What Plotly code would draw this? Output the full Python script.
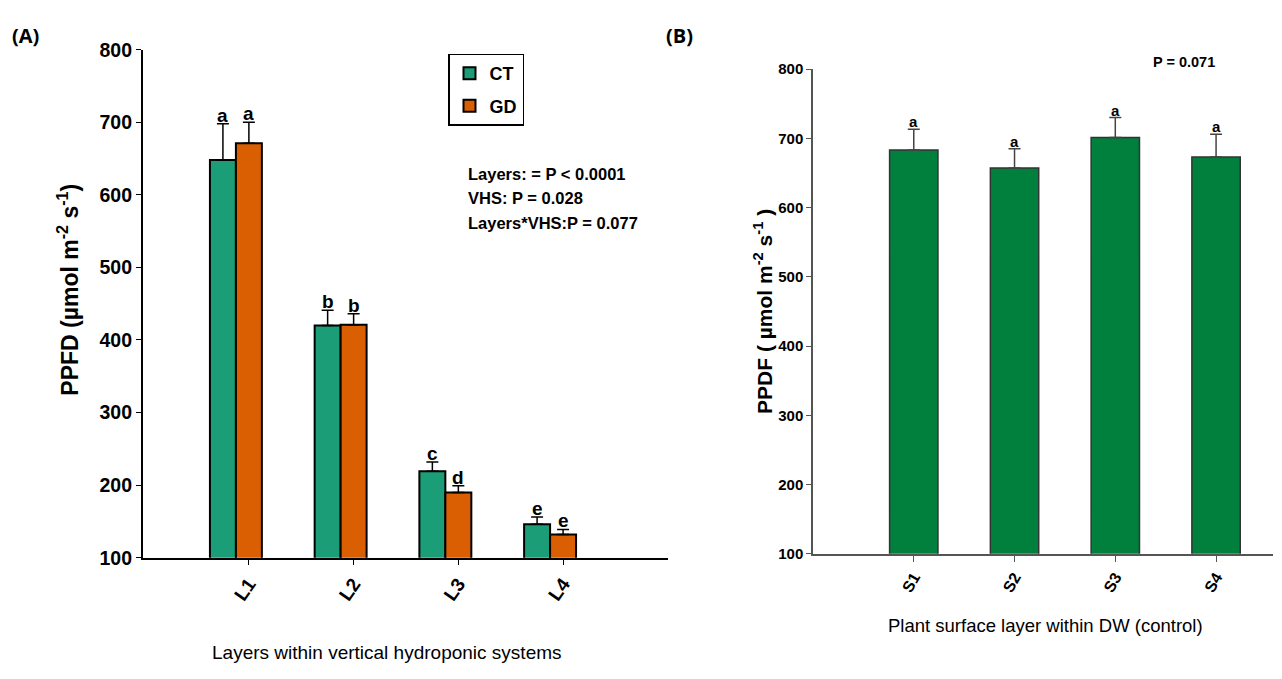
import plotly.graph_objects as go

# Panel A: PPFD by layer for the two vertical hydroponic systems
layers = ["L1", "L2", "L3", "L4"]
ct_mean = [648, 420, 219, 146]
ct_sd = [50, 21, 13, 10]
gd_mean = [671, 421, 190, 132]
gd_sd = [29, 15, 9, 7]
ct_letters = ["a", "b", "c", "e"]
gd_letters = ["a", "b", "d", "e"]
stats_lines = ["Layers: = P < 0.0001", "VHS: P = 0.028", "Layers*VHS:P = 0.077"]

# Panel B: PPFD by plant surface layer in the DW control
surfaces = ["S1", "S2", "S3", "S4"]
dw_mean = [683, 657, 701, 673]
dw_sd = [30, 28, 29, 33]
dw_letters = ["a", "a", "a", "a"]
p_text = "P = 0.071"

CT_COLOR = "#1b9e77"
GD_COLOR = "#d95f02"
DW_COLOR = "#007f3d"
SANS = "Liberation Sans, Arial, sans-serif"
W, H = 1282, 679

BAR_W = 0.248  # bar width in category units (panel A)
pos_a = list(range(len(layers)))
pos_b = list(range(len(surfaces)))


def px(x):
    return x / W


def py(y):
    return 1 - y / H


fig = go.Figure()

fig.add_trace(go.Bar(
    x=[p - BAR_W / 2 for p in pos_a], y=ct_mean, width=BAR_W, name="CT",
    legendgroup="ct",
    marker=dict(color=CT_COLOR, line=dict(color="black", width=2)),
    error_y=dict(type="data", symmetric=False, array=ct_sd,
                 arrayminus=[0] * len(ct_sd), color="black",
                 thickness=1.5, width=6),
    xaxis="x", yaxis="y", showlegend=True,
))
fig.add_trace(go.Bar(
    x=[p + BAR_W / 2 for p in pos_a], y=gd_mean, width=BAR_W, name="GD",
    legendgroup="gd",
    marker=dict(color=GD_COLOR, line=dict(color="black", width=2)),
    error_y=dict(type="data", symmetric=False, array=gd_sd,
                 arrayminus=[0] * len(gd_sd), color="black",
                 thickness=1.5, width=6),
    xaxis="x", yaxis="y", showlegend=True,
))
fig.add_trace(go.Bar(
    x=pos_b, y=dw_mean, width=0.48, name="DW",
    marker=dict(color=DW_COLOR, line=dict(color="#333333", width=1.5)),
    error_y=dict(type="data", symmetric=False, array=dw_sd,
                 arrayminus=[0] * len(dw_sd), color="#444444",
                 thickness=1.5, width=6),
    xaxis="x2", yaxis="y2", showlegend=False,
))

annotations = []


def note(x, y, text, size, bold=False, xanchor="center", yanchor="middle",
         angle=0, family=SANS):
    annotations.append(dict(
        x=px(x), y=py(y), xref="paper", yref="paper", text=text,
        showarrow=False, xanchor=xanchor, yanchor=yanchor, textangle=angle,
        font=dict(family=family, size=size, color="black",
                  weight="bold" if bold else "normal")))


# significance letters just above each error bar
for p, m, s, lab in zip(pos_a, ct_mean, ct_sd, ct_letters):
    annotations.append(dict(x=p - BAR_W / 2, y=m + s, xref="x", yref="y",
                            text=lab, showarrow=False, xanchor="center",
                            yanchor="bottom", yshift=-4,
                            font=dict(family=SANS, size=19, color="black",
                                      weight="bold")))
for p, m, s, lab in zip(pos_a, gd_mean, gd_sd, gd_letters):
    annotations.append(dict(x=p + BAR_W / 2, y=m + s, xref="x", yref="y",
                            text=lab, showarrow=False, xanchor="center",
                            yanchor="bottom", yshift=-4,
                            font=dict(family=SANS, size=19, color="black",
                                      weight="bold")))
for p, m, s, lab in zip(pos_b, dw_mean, dw_sd, dw_letters):
    annotations.append(dict(x=p, y=m + s, xref="x2", yref="y2",
                            text=lab, showarrow=False, xanchor="center",
                            yanchor="bottom", yshift=-3,
                            font=dict(family=SANS, size=15, color="black",
                                      weight="bold")))

# statistics text, panel A
for i, line in enumerate(stats_lines):
    note(466, 168 + 25.5 * i, line, 16.5, bold=True, xanchor="left")
# P value, panel B
note(1184, 53, p_text, 14.5, bold=True)

# panel labels
note(25, 25, "(A)", 20, bold=True, family="Open Sans, sans-serif")
note(679, 25, "(B)", 20, bold=True, family="Open Sans, sans-serif")

# axis titles
note(68, 288, "PPFD (µmol m<sup>-2</sup> s<sup>-1</sup>)", 23, bold=True,
     angle=-90)
note(763, 311, "PPDF ( µmol m<sup>-2</sup> s<sup>-1</sup> )", 21, bold=True,
     angle=-90)
note(387, 663, "Layers within vertical hydroponic systems", 19)
note(1045, 635, "Plant surface layer within DW (control)", 18.5)

fig.update_layout(
    width=W, height=H,
    margin=dict(l=0, r=0, t=0, b=0),
    paper_bgcolor="white", plot_bgcolor="white",
    barmode="overlay",
    showlegend=True,
    legend=dict(x=px(448), y=py(44), xanchor="left", yanchor="top",
                bordercolor="black", borderwidth=1.5, bgcolor="white",
                font=dict(family=SANS, size=18, color="black", weight="bold"),
                traceorder="grouped", tracegroupgap=6, itemwidth=30,
                valign="middle"),
    xaxis=dict(domain=[px(142.7), px(668)], range=[-0.89, 4.126],
               tickvals=[p + BAR_W / 2 for p in pos_a], ticktext=layers,
               tickangle=-55, ticks="outside", ticklen=6, tickcolor="black",
               showline=True, linecolor="black", linewidth=1.5,
               showgrid=False, zeroline=False,
               tickfont=dict(family=SANS, size=19, color="black",
                             weight="bold"),
               anchor="y"),
    yaxis=dict(domain=[py(565), py(40)], range=[100, 800],
               dtick=100, ticks="outside", ticklen=5, tickcolor="black",
               showline=True, linecolor="black", linewidth=1.5,
               showgrid=False, zeroline=False,
               tickfont=dict(family=SANS, size=19.5, color="black",
                             weight="bold"),
               anchor="x"),
    xaxis2=dict(domain=[px(813), px(1273)], range=[-1.0, 3.565],
                tickvals=pos_b, ticktext=surfaces,
                tickangle=-60, ticks="outside", ticklen=6, tickcolor="#555555",
                showline=True, linecolor="#555555", linewidth=1.5,
                showgrid=False, zeroline=False,
                tickfont=dict(family=SANS, size=16, color="black",
                              weight="bold"),
                anchor="y2"),
    yaxis2=dict(domain=[py(561), py(60)], range=[100, 800],
                dtick=100, ticks="outside", ticklen=5, tickcolor="#555555",
                showline=True, linecolor="#555555", linewidth=1.5,
                showgrid=False, zeroline=False,
                tickfont=dict(family=SANS, size=15, color="black",
                              weight="bold"),
                anchor="x2"),
    annotations=annotations,
)

fig.write_html("out.html")
